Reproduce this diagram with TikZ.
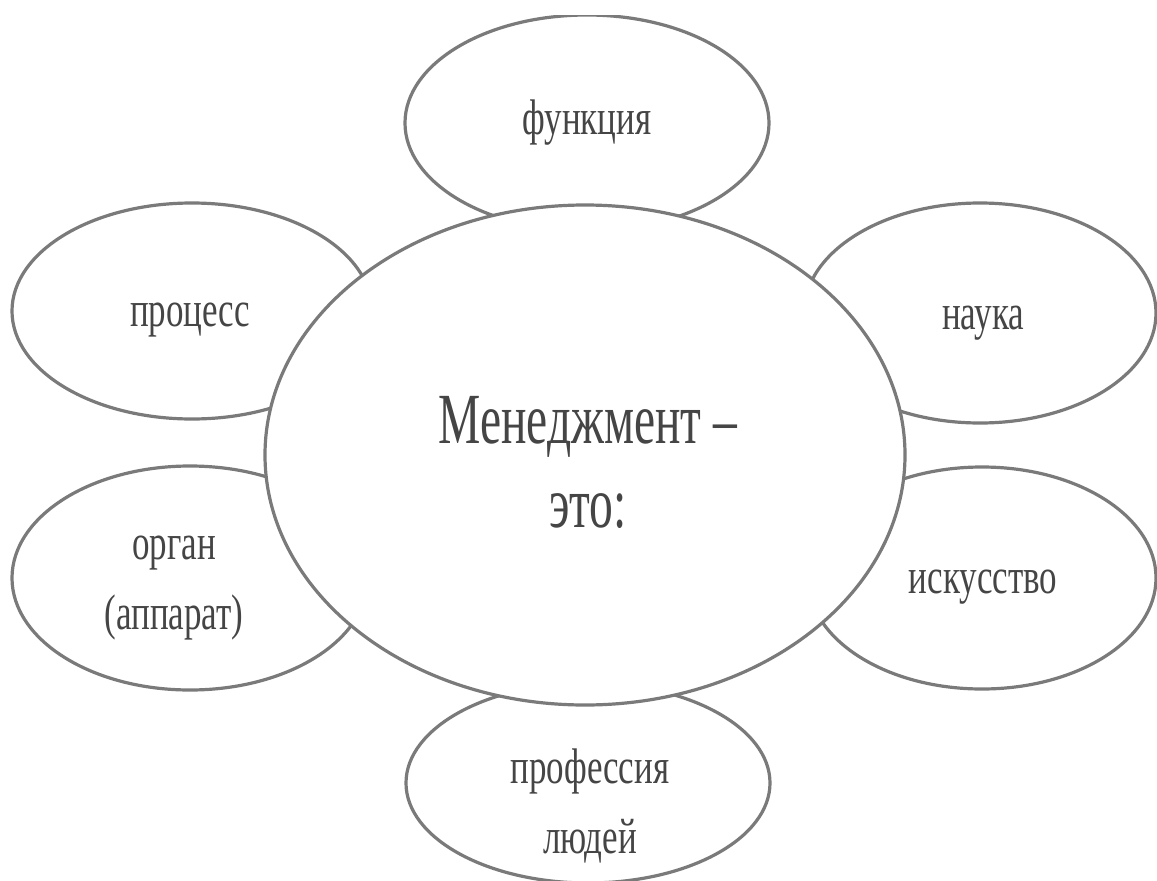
\documentclass[tikz,border=0pt]{standalone}
\usepackage{fontspec}
\newfontfamily\condserif[FakeStretch=0.7]{Liberation Serif}
\newfontfamily\condserifbig[FakeStretch=0.66]{Liberation Serif}
\usetikzlibrary{shapes.geometric}
\definecolor{edgegray}{HTML}{7A7A7A}
\definecolor{textgray}{HTML}{454545}
\tikzset{
  oval/.style={ellipse, draw=edgegray, line width=3.2pt, fill=white, inner sep=0pt},
  smalltext/.style={text=textgray, align=center, font=\condserif\fontsize{50}{70}\selectfont},
  bigtext/.style={text=textgray, align=center, font=\condserifbig\fontsize{72}{84}\selectfont}
}
\begin{document}
\begin{tikzpicture}[x=1pt,y=-1pt]
\useasboundingbox[fill=white] (0,0) rectangle (1157,881);
\begin{scope}
\clip (0,15) rectangle (1157,881);
\node[oval, minimum width=364pt, minimum height=216pt] (fun) at (587,123) {};
\node[oval, minimum width=360pt, minimum height=216pt] (proc) at (192,311) {};
\node[oval, minimum width=352pt, minimum height=220pt] (sci) at (980,313) {};
\node[oval, minimum width=356pt, minimum height=224pt] (org) at (190,578) {};
\node[oval, minimum width=348pt, minimum height=222pt] (art) at (982,578) {};
\node[oval, minimum width=364pt, minimum height=200pt] (prof) at (588,783) {};
\node[oval, minimum width=640pt, minimum height=500pt] (mgmt) at (585,455) {};
\end{scope}
\node[smalltext] (funt) at (587,123) {функция};
\node[smalltext] (proct) at (190,320) {процесс};
\node[smalltext] (scit) at (983,323) {наука};
\node[smalltext] (orgt) at (174,588) {орган\\(аппарат)};
\node[smalltext] (artt) at (983,587) {искусство};
\node[smalltext] (proft) at (590,806) {профессия\\людей};
\node[bigtext] (mgmtt) at (588,462) {Менеджмент –\\это:};
\end{tikzpicture}
\end{document}
